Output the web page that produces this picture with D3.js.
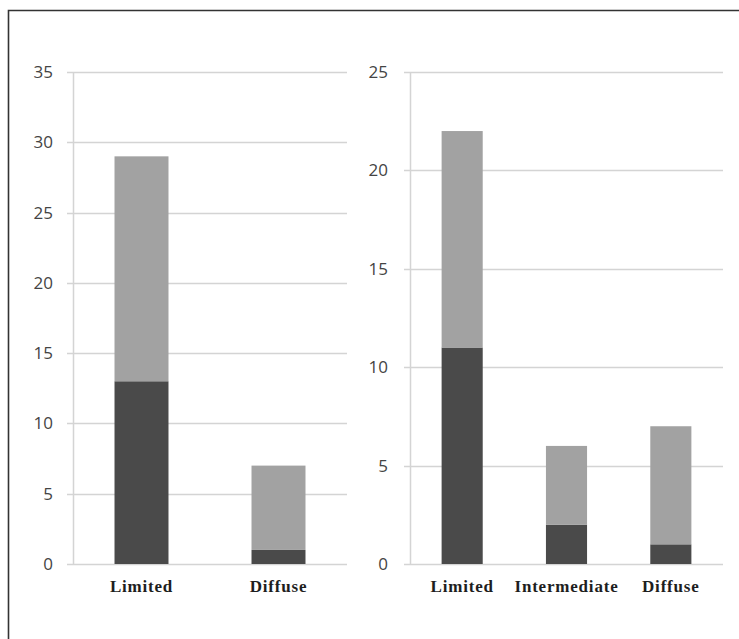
<!DOCTYPE html>
<html lang="en">
<head>
  <script src="https://cdn.jsdelivr.net/npm/d3@7"></script>
  <style>
    body {
      margin: 0;
      background: #fff;
    }
    .axis text {
      font-family: "Open Sans", sans-serif;
      font-size: 17px;
      fill: #444;
    }
    .cat {
      font-family: "Liberation Serif", "Times New Roman", serif;
      font-size: 17px;
      font-weight: bold;
      letter-spacing: 0.8px;
      fill: #1e1e1e;
      text-anchor: middle;
    }
  </style>
</head>
<body>
  <svg id="chart"></svg>
  <script>
    // left panel
    var leftCategories = ['Limited', 'Diffuse'];
    var leftDark = [13, 1];
    var leftLight = [16, 6];
    var leftTicks = [0, 5, 10, 15, 20, 25, 30, 35];

    // right panel
    var rightCategories = ['Limited', 'Intermediate', 'Diffuse'];
    var rightDark = [11, 2, 1];
    var rightLight = [11, 4, 6];
    var rightTicks = [0, 5, 10, 15, 20, 25];

    var W = 739, H = 639;
    var darkColor = '#4a4a4a', lightColor = '#a2a2a2', gridColor = '#d4d4d4';

    var svg = d3.select('#chart')
      .attr('width', W)
      .attr('height', H);

    svg.append('rect')
      .attr('width', W)
      .attr('height', H)
      .attr('fill', '#fff');

    // frame (only top and left edges visible in the crop)
    svg.append('path')
      .attr('d', 'M8.5,' + H + 'V10.5H' + W)
      .attr('fill', 'none')
      .attr('stroke', '#333')
      .attr('stroke-width', 1.6);

    function drawPanel(cats, dark, light, ticks, x0, x1, pad) {
      var y = d3.scaleLinear()
        .domain([0, d3.max(ticks)])
        .range([564, 72]);

      var x = d3.scaleBand()
        .domain(cats)
        .range([x0, x1])
        .paddingInner(0.606)
        .paddingOuter(0.303);

      var rows = cats.map(function (c, i) {
        return { cat: c, dark: dark[i], light: light[i] };
      });
      var series = d3.stack().keys(['dark', 'light'])(rows);

      var g = svg.append('g');

      // gridlines
      g.selectAll('.grid')
        .data(ticks)
        .enter().append('line')
        .attr('class', 'grid')
        .attr('x1', x0 - 6)
        .attr('x2', x1)
        .attr('y1', function (d) { return Math.round(y(d)) + 0.5; })
        .attr('y2', function (d) { return Math.round(y(d)) + 0.5; })
        .attr('stroke', gridColor)
        .attr('stroke-width', 1.5);

      var yAxis = d3.axisLeft(y)
        .tickValues(ticks)
        .tickSize(0)
        .tickPadding(pad);

      var ag = g.append('g')
        .attr('class', 'axis')
        .attr('transform', 'translate(' + x0 + ',0)')
        .call(yAxis);
      ag.select('.domain')
        .attr('stroke', gridColor)
        .attr('stroke-width', 1.5);

      g.selectAll('.series')
        .data(series)
        .enter().append('g')
        .attr('fill', function (d) { return d.key === 'dark' ? darkColor : lightColor; })
        .selectAll('rect')
        .data(function (d) { return d; })
        .enter().append('rect')
        .attr('x', function (d) { return x(d.data.cat); })
        .attr('width', x.bandwidth())
        .attr('y', function (d) { return y(d[1]); })
        .attr('height', function (d) { return y(d[0]) - y(d[1]); });

      g.selectAll('.cat')
        .data(cats)
        .enter().append('text')
        .attr('class', 'cat')
        .attr('x', function (d) { return x(d) + x.bandwidth() / 2; })
        .attr('y', 592)
        .text(function (d) { return d; });
    }

    drawPanel(leftCategories, leftDark, leftLight, leftTicks, 73, 347, 20);
    drawPanel(rightCategories, rightDark, rightLight, rightTicks, 410, 723, 22);
  </script>
</body>
</html>
